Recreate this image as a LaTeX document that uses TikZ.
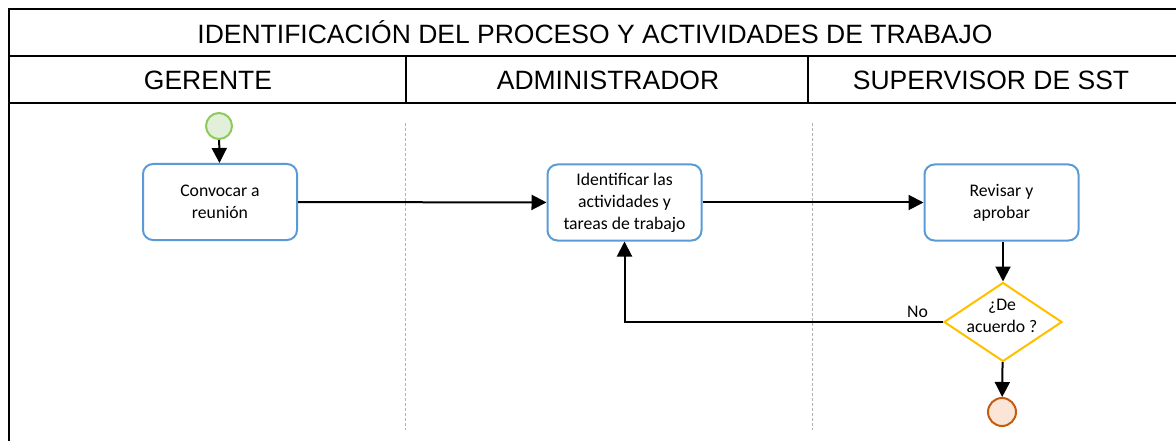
\documentclass[tikz,border=0pt]{standalone}
\usepackage{fontspec}
\setmainfont{Carlito}
\newfontfamily\arialf{Liberation Sans}
\usetikzlibrary{shapes.geometric,arrows.meta}
\definecolor{taskblue}{HTML}{5B9BD5}
\definecolor{startgreen}{HTML}{8CCB5A}
\definecolor{startfill}{HTML}{E2F0D9}
\definecolor{decyellow}{HTML}{FFC000}
\definecolor{endbrown}{HTML}{C55A11}
\definecolor{endfill}{HTML}{FBE5D6}
\tikzset{
  tbl/.style={line width=2pt, black},
  lane/.style={gray!60, line width=0.8pt, dash pattern=on 3pt off 2pt},
  hdr/.style={font=\arialf\fontsize{26.5}{30}\selectfont, inner sep=0pt},
  task/.style={draw=taskblue, line width=2pt, rounded corners=10pt, minimum width=154pt, minimum height=76pt, align=center, font=\fontsize{17.7}{22}\selectfont},
  startev/.style={circle, draw=startgreen, fill=startfill, line width=2pt, minimum size=26pt, inner sep=0pt},
  endev/.style={circle, draw=endbrown, fill=endfill, line width=2pt, minimum size=28pt, inner sep=0pt},
  decision/.style={diamond, draw=decyellow, line width=2pt, minimum width=118pt, minimum height=79pt, inner sep=0pt},
  lbl/.style={font=\fontsize{17.7}{22}\selectfont, align=center, inner sep=0pt},
  arr/.style={line width=2pt, -{Triangle[length=15pt,width=15pt]}},
}
\begin{document}
\begin{tikzpicture}[x=1pt,y=-1pt]
\useasboundingbox (0,0) rectangle (1176,441);
% table
\draw[tbl] (9,441) -- (9,9) -- (1176,9);
\draw[tbl] (9,56) -- (1176,56);
\draw[tbl] (9,103) -- (1176,103);
\draw[tbl] (406,56) -- (406,103);
\draw[tbl] (808,56) -- (808,103);
\node[hdr] (title) at (595,32) {IDENTIFICACIÓN DEL PROCESO Y ACTIVIDADES DE TRABAJO};
\node[hdr] (h1) at (208,80) {GERENTE};
\node[hdr] (h2) at (608,80) {ADMINISTRADOR};
\node[hdr] (h3) at (991,80) {SUPERVISOR DE SST};
% lanes
\draw[lane] (405,123) -- (405,430);
\draw[lane] (812,123) -- (812,430);
% nodes
\node[startev] (s) at (219,126) {};
\node[task] (b1) at (220,202) {Convocar a\\reunión};
\node[task] (b2) at (624.5,202.5) {Identificar las\\actividades y\\tareas de trabajo};
\node[task] (b3) at (1001.5,202.5) {Revisar y\\aprobar};
\node[decision] (d) at (1003,322) {};
\node[lbl] (dtext) at (1002,316) {¿De\\acuerdo ?};
\node[endev] (e) at (1002,412) {};
% connectors
\draw[arr] (s) -- (b1);
\draw[arr] (b1) -- (b2);
\draw[arr] (b2) -- (b3);
\draw[arr] (b3.south -| d.north) -- (d.north);
\draw[arr] (d) -- (e);
\draw[arr] (d.west) -| node[lbl, pos=0.04, above=3pt] {No} (b2.south);
\end{tikzpicture}
\end{document}
